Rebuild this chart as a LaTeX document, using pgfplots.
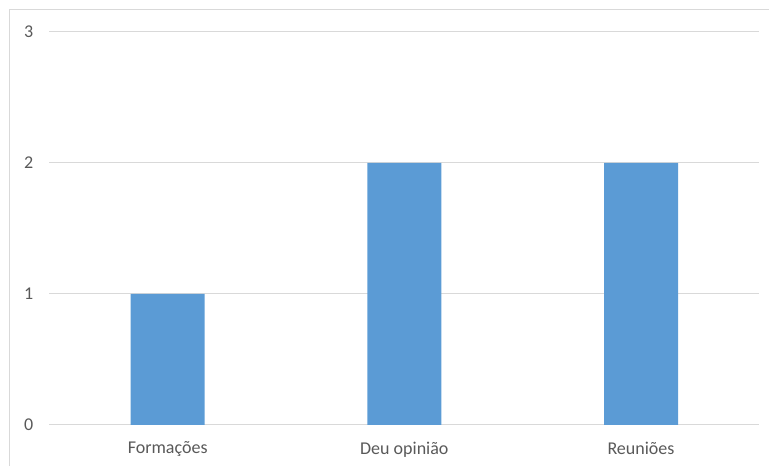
\documentclass[border=0pt]{standalone}
\usepackage{pgfplots}
\pgfplotsset{compat=1.18}
\usepackage{fontspec}
\setmainfont{Carlito}
\definecolor{barblue}{HTML}{5B9BD5}
\definecolor{gridgray}{HTML}{D9D9D9}
\definecolor{txtgray}{HTML}{595959}
\definecolor{bordergray}{HTML}{D9D9D9}
\begin{document}
\begin{tikzpicture}[x=0.75pt,y=0.75pt]
\path[use as bounding box] (0,0) rectangle (769,466);
\draw[bordergray, line width=0.75pt] (9.5,0) -- (9.5,456) -- (769,456);
\begin{axis}[
  at={(37pt,30.75pt)}, anchor=south west,
  scale only axis,
  width=532.5pt, height=294.75pt,
  ymin=0, ymax=3, ytick={0,1,2,3},
  xmin=-0.5, xmax=2.5,
  xtick={0,1,2},
  xticklabels={Formações,Deu opinião,Reuniões},
  axis line style={draw=none},
  axis x line*=bottom,
  x axis line style={draw=gridgray, line width=0.75pt},
  major tick length=0pt,
  ymajorgrids,
  grid style={gridgray, line width=0.75pt},
  tick label style={font=\fontsize{13.5}{16}\selectfont, text=txtgray},
  /pgf/number format/assume math mode=true,
  yticklabel style={xshift=-8.5pt},
  xticklabel style={yshift=-9pt},
  ybar, bar width=55.5pt,
  clip=false,
]
\addplot[fill=barblue, draw=none] coordinates {(0,1) (1,2) (2,2)};
\end{axis}
\end{tikzpicture}
\end{document}
